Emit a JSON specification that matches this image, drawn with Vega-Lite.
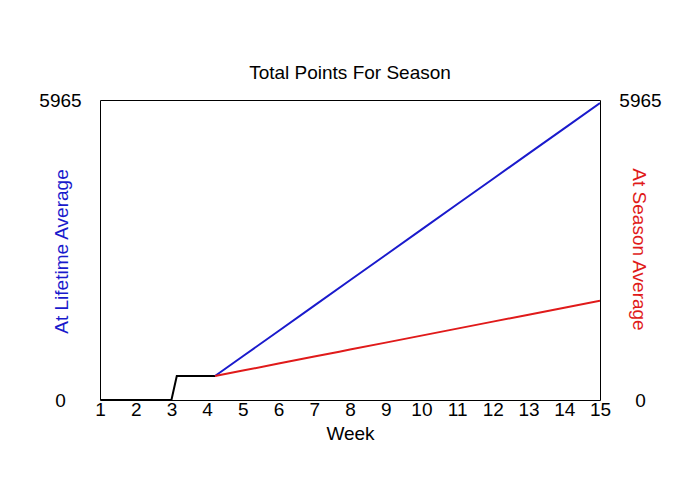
{
  "$schema": "https://vega.github.io/schema/vega-lite/v6.json",
  "width": 500,
  "height": 300,
  "autosize": "none",
  "padding": {"left": 100, "top": 100, "right": 100, "bottom": 100},
  "background": "white",
  "config": {
    "font": "Liberation Sans",
    "view": {"stroke": "black", "strokeWidth": 1},
    "axis": {"grid": false, "ticks": false, "tickSize": 0, "domain": false, "labelColor": "black", "labelFont": "Liberation Sans", "titleFont": "Liberation Sans", "titleFontWeight": "normal", "labelFontSize": 19, "titleFontSize": 19, "labelOverlap": false, "labelFlush": false, "labelBound": false, "format": "d"}
  },
  "title": {"text": "Total Points For Season", "fontSize": 19, "fontWeight": "normal", "font": "Liberation Sans", "anchor": "middle", "baseline": "alphabetic", "offset": -7, "color": "black"},
  "data": {
    "values": [
      {"week": 1, "points": 0, "series": "base"},
      {"week": 3.0, "points": 0, "series": "base"},
      {"week": 3.15, "points": 477, "series": "base"},
      {"week": 4.22, "points": 477, "series": "base"},
      {"week": 4.22, "points": 477, "series": "lifetime"},
      {"week": 5, "points": 870, "series": "lifetime"},
      {"week": 6, "points": 1373, "series": "lifetime"},
      {"week": 7, "points": 1877, "series": "lifetime"},
      {"week": 8, "points": 2380, "series": "lifetime"},
      {"week": 9, "points": 2884, "series": "lifetime"},
      {"week": 10, "points": 3387, "series": "lifetime"},
      {"week": 11, "points": 3891, "series": "lifetime"},
      {"week": 12, "points": 4394, "series": "lifetime"},
      {"week": 13, "points": 4898, "series": "lifetime"},
      {"week": 14, "points": 5401, "series": "lifetime"},
      {"week": 15, "points": 5905, "series": "lifetime"},
      {"week": 4.22, "points": 477, "series": "season"},
      {"week": 5, "points": 585, "series": "season"},
      {"week": 6, "points": 724, "series": "season"},
      {"week": 7, "points": 863, "series": "season"},
      {"week": 7.7, "points": 960, "series": "season"},
      {"week": 8, "points": 1002, "series": "season"},
      {"week": 9, "points": 1141, "series": "season"},
      {"week": 10, "points": 1280, "series": "season"},
      {"week": 11, "points": 1419, "series": "season"},
      {"week": 12, "points": 1558, "series": "season"},
      {"week": 13, "points": 1697, "series": "season"},
      {"week": 14, "points": 1836, "series": "season"},
      {"week": 15, "points": 1974, "series": "season"}
    ]
  },
  "layer": [
    {
      "transform": [{"filter": "datum.series !== 'season'"}],
      "mark": {"type": "line", "strokeWidth": 2, "clip": true},
      "encoding": {
        "x": {"field": "week", "type": "quantitative", "scale": {"domain": [1, 15], "nice": false, "zero": false},
          "axis": {"values": [1,2,3,4,5,6,7,8,9,10,11,12,13,14,15], "title": "Week", "labelPadding": 0, "titleX": 250, "titleY": 39, "titleBaseline": "alphabetic", "titleColor": "black"}},
        "y": {"field": "points", "type": "quantitative", "scale": {"domain": [0, 5965], "nice": false},
          "axis": {"orient": "left", "values": [0, 5965], "title": "At Lifetime Average", "titleColor": "#1a1acc", "labelAlign": "center", "labelPadding": 40, "titleX": -33, "titleY": 151, "titleBaseline": "alphabetic", "titleAngle": -90, "titleAlign": "center"}},
        "color": {"field": "series", "type": "nominal", "scale": {"domain": ["base", "lifetime", "season"], "range": ["#000000", "#1a1acc", "#e01a1a"]}, "legend": null},
        "detail": {"field": "series"}
      }
    },
    {
      "transform": [{"filter": "datum.series === 'season'"}],
      "mark": {"type": "line", "strokeWidth": 2, "clip": true, "color": "#e01a1a"},
      "encoding": {
        "x": {"field": "week", "type": "quantitative", "scale": {"domain": [1, 15], "nice": false, "zero": false},
          "axis": {"values": [1,2,3,4,5,6,7,8,9,10,11,12,13,14,15], "title": "Week", "labelPadding": 0, "titleX": 250, "titleY": 39, "titleBaseline": "alphabetic", "titleColor": "black"}},
        "y": {"field": "points", "type": "quantitative", "scale": {"domain": [0, 5965], "nice": false},
          "axis": {"orient": "right", "values": [0, 5965], "title": "At Season Average", "titleColor": "#e01a1a", "labelAlign": "center", "labelPadding": 40, "titleX": 32, "titleY": 149, "titleBaseline": "alphabetic", "titleAngle": 90, "titleAlign": "center"}}
      }
    }
  ],
  "resolve": {"scale": {"y": "independent"}}
}
